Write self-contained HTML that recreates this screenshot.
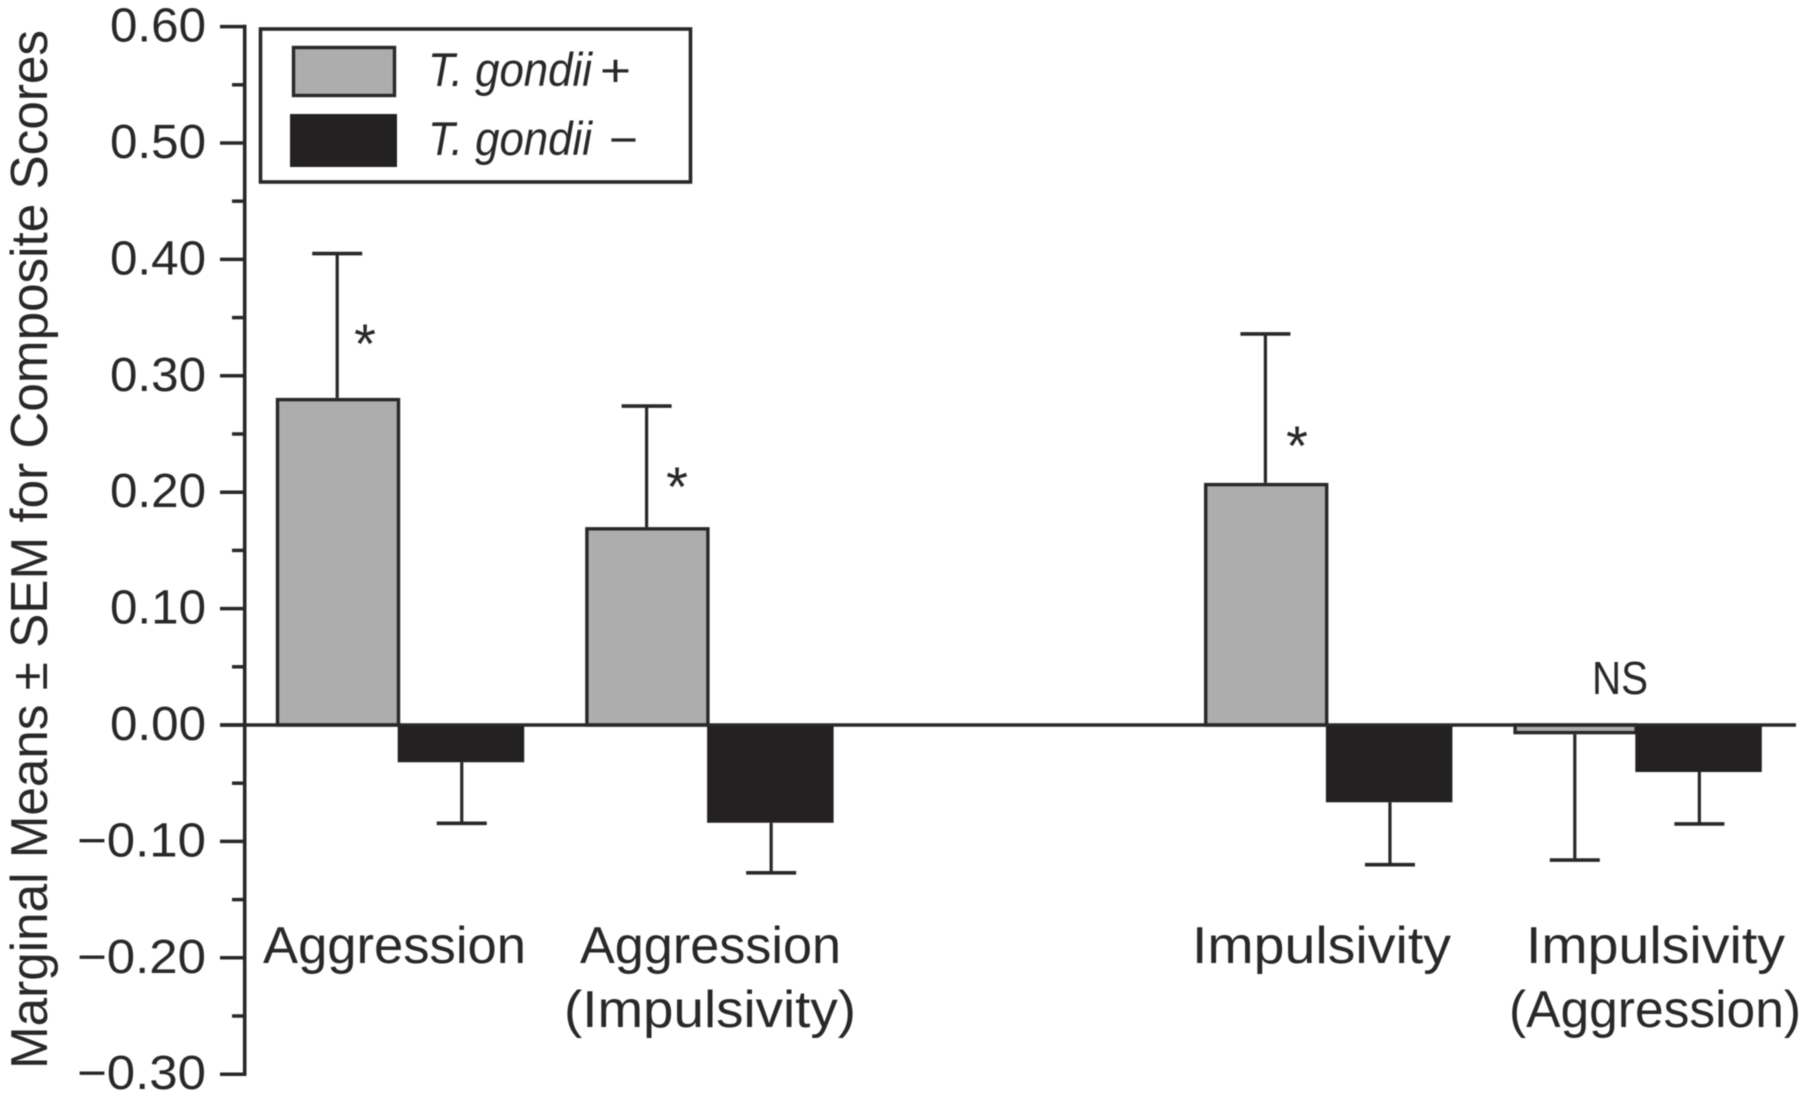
<!DOCTYPE html>
<html lang="en">
<head>
<meta charset="utf-8">
<title>Marginal Means for Composite Scores</title>
<style>
  html, body { margin: 0; padding: 0; background: #fff; }
  body { width: 1807px; height: 1096px; overflow: hidden; }
  svg { display: block; filter: blur(0.45px); }
  text { font-family: "Liberation Sans", sans-serif; fill: #2a2728; }
</style>
</head>
<body>
<svg id="chart" width="1807" height="1096" viewBox="0 0 1807 1096" xmlns="http://www.w3.org/2000/svg">
  <g id="marks"></g>
  <g id="y-axis"></g>

  <text transform="translate(47 1069) rotate(-90)" font-size="52" textLength="1039" lengthAdjust="spacingAndGlyphs">Marginal Means ± SEM for Composite Scores</text>

  <g>
    <rect x="260.5" y="29" width="430" height="153" fill="#fff" stroke="#2a2728" stroke-width="3.6"></rect>
    <rect x="293.5" y="47.5" width="101" height="48" fill="#adadad" stroke="#2a2728" stroke-width="3.4"></rect>
    <text x="428" y="86" font-size="47" font-style="italic" textLength="164" lengthAdjust="spacingAndGlyphs">T. gondii</text>
    <text x="600" y="86" font-size="45" textLength="31" lengthAdjust="spacingAndGlyphs">+</text>
    <rect x="290" y="114" width="107" height="53" fill="#232122"></rect>
    <text x="428" y="155" font-size="47" font-style="italic" textLength="164" lengthAdjust="spacingAndGlyphs">T. gondii</text>
    <text x="609" y="155" font-size="45" textLength="29" lengthAdjust="spacingAndGlyphs">−</text>
  </g>

  <g font-size="52">
    <text x="263" y="963" textLength="263" lengthAdjust="spacingAndGlyphs">Aggression</text>
    <text x="580" y="963" textLength="261" lengthAdjust="spacingAndGlyphs">Aggression</text>
    <text x="564" y="1027" textLength="292" lengthAdjust="spacingAndGlyphs">(Impulsivity)</text>
    <text x="1192" y="963" textLength="259" lengthAdjust="spacingAndGlyphs">Impulsivity</text>
    <text x="1526" y="963" textLength="259" lengthAdjust="spacingAndGlyphs">Impulsivity</text>
    <text x="1509" y="1027" textLength="292" lengthAdjust="spacingAndGlyphs">(Aggression)</text>
  </g>

  <g>
    <text x="365" y="363" font-size="56" text-anchor="middle">*</text>
    <text x="677" y="506" font-size="56" text-anchor="middle">*</text>
    <text x="1297" y="465" font-size="56" text-anchor="middle">*</text>
    <text x="1592" y="694" font-size="46" textLength="56" lengthAdjust="spacingAndGlyphs">NS</text>
  </g>
</svg>
<script>
const categories = ['Aggression', 'Aggression (Impulsivity)', '', 'Impulsivity', 'Impulsivity (Aggression)'];
const positiveMeans = [0.281, 0.170, null, 0.208, -0.008];
const positiveErrorEnds = [0.405, 0.274, null, 0.336, -0.116];
const negativeMeans = [-0.032, -0.084, null, -0.0664, -0.0404];
const negativeErrorEnds = [-0.0845, -0.127, null, -0.120, -0.085];
const majorTicks = [0.6, 0.5, 0.4, 0.3, 0.2, 0.1, 0, -0.1, -0.2, -0.3];
const minorTicks = [0.55, 0.45, 0.35, 0.25, 0.15, 0.05, -0.05, -0.15, -0.25];
const tickLabels = ['0.60', '0.50', '0.40', '0.30', '0.20', '0.10', '0.00', '−0.10', '−0.20', '−0.30'];

const NS = 'http://www.w3.org/2000/svg';
const INK = '#2a2728';
const yScale = function (v) { return 725 - v * 1164; };
const xScale = function (i) { return 276.7 + 309.4 * i; };
const POSITIVE_WIDTH = 121;
const NEGATIVE_WIDTH = 126.5;
const AXIS_X = 244.7;

function make(tag, attrs, parent) {
  const el = document.createElementNS(NS, tag);
  Object.keys(attrs).forEach(function (k) { el.setAttribute(k, attrs[k]); });
  parent.appendChild(el);
  return el;
}

const marks = document.getElementById('marks');
const axis = document.getElementById('y-axis');

function drawError(x, fromValue, toValue, halfCap, key, parent) {
  const stem = make('line', { x1: x, x2: x, y1: yScale(fromValue), y2: yScale(toValue), stroke: INK, 'stroke-width': 3.2 }, parent);
  
  
  const cap = make('line', { x1: x - halfCap, x2: x + halfCap, y1: yScale(toValue), y2: yScale(toValue), stroke: INK, 'stroke-width': 3.6 }, parent);
  
  
}

categories.forEach(function (name, i) {
  if (positiveMeans[i] === null) return;
  const key = name.toLowerCase().replace(/[()]/g, '').replace(/\s+/g, '-');
  const left = xScale(i);

  const posMean = positiveMeans[i];
  drawError(left + POSITIVE_WIDTH / 2, posMean, positiveErrorEnds[i], 25, 'positive-' + key, marks);
  const posTop = Math.min(yScale(posMean), yScale(0));
  const posHeight = Math.abs(yScale(posMean) - yScale(0));
  const posBar = make('rect', { x: left + 0.8, y: posTop + (posMean >= 0 ? 1.7 : 0), width: POSITIVE_WIDTH, height: Math.max(posHeight - 1.7, 0), fill: '#adadad', stroke: INK, 'stroke-width': 3.4 }, marks);
  
  

  const negMean = negativeMeans[i];
  const negLeft = left + POSITIVE_WIDTH;
  drawError(negLeft + NEGATIVE_WIDTH / 2 + 0.8, negMean, negativeErrorEnds[i], 25, 'negative-' + key, marks);
  const negBar = make('rect', { x: negLeft, y: yScale(0), width: NEGATIVE_WIDTH, height: yScale(negMean) - yScale(0), fill: '#232122' }, marks);
  
  
});

const zeroLine = make('line', { x1: 220, x2: 1796, y1: yScale(0), y2: yScale(0), stroke: INK, 'stroke-width': 3.6 }, marks);



const axisLine = make('line', { x1: AXIS_X, x2: AXIS_X, y1: yScale(0.6) - 1.8, y2: yScale(-0.3) + 1.8, stroke: INK, 'stroke-width': 3.6 }, axis);



majorTicks.forEach(function (v, i) {
  const tick = make('line', { x1: 220, x2: AXIS_X, y1: yScale(v), y2: yScale(v), stroke: INK, 'stroke-width': 3.5 }, axis);
  
  
  const label = make('text', { x: 206, y: yScale(v) + 15, 'font-size': 48, 'text-anchor': 'end', textLength: tickLabels[i].length > 4 ? 129 : 96, lengthAdjust: 'spacingAndGlyphs' }, axis);
  label.textContent = tickLabels[i];
  
  
});

minorTicks.forEach(function (v) {
  const tick = make('line', { x1: 232, x2: AXIS_X, y1: yScale(v), y2: yScale(v), stroke: INK, 'stroke-width': 3.5 }, axis);
  
  
});
</script>
</body>
</html>
